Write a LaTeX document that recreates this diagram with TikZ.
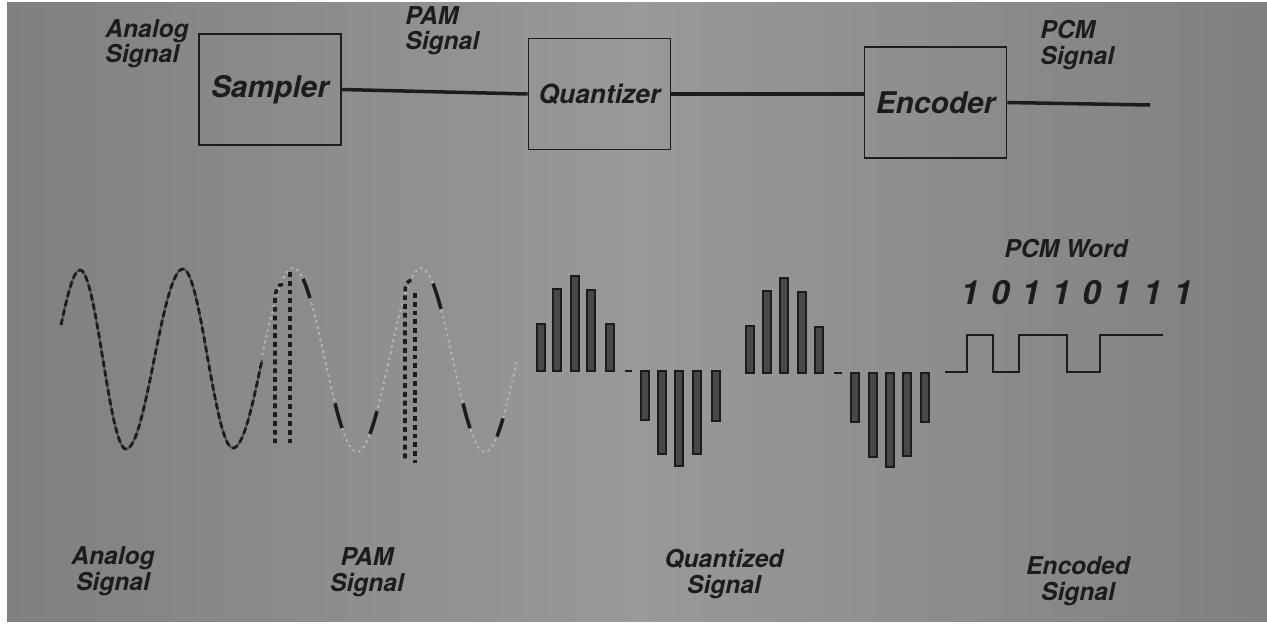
\documentclass[tikz,border=0pt]{standalone}
\usepackage{fontspec}
\setmainfont{TeX Gyre Heros}
\usetikzlibrary{calc}

\definecolor{ink}{RGB}{28,28,28}
\definecolor{faint}{RGB}{178,178,178}
\definecolor{bgdark}{RGB}{128,128,128}
\definecolor{bglight}{RGB}{153,153,153}
\definecolor{barfill}{RGB}{72,72,72}

\begin{document}
\begin{tikzpicture}[x=0.02cm, y=-0.02cm,
  txt/.style={font=\fontsize{14}{14.5}\selectfont\bfseries\itshape, text=ink, inner sep=0pt},
  block/.style={draw=ink, line width=1.1pt, minimum width=2.84cm, minimum height=2.22cm, inner sep=0pt, font=\fontsize{17}{17}\selectfont\bfseries\itshape, text=ink},
  wire/.style={draw=ink, line width=2pt},
  analog/.style={draw=ink, line width=1.6pt, dash pattern=on 3.5pt off 2pt, preaction={draw=ink!60!bglight, solid, line width=1.1pt}},
  pamfaint/.style={draw=faint, line width=1.2pt, dash pattern=on 1.5pt off 2pt},
  pamdark/.style={draw=ink, line width=2pt},
  pulse/.style={draw=ink, line width=2pt, dash pattern=on 2.8pt off 2.2pt},
  qbar/.style={draw=ink, fill=barfill, line width=0.8pt},
  pcm/.style={draw=ink, line width=1.4pt},
  declare function={pam(\x)=360-92*sin((\x-261)*2.8125);}
]
% Paper
\fill [white] (0,0) rectangle (1267,626);
\shade [left color=bgdark, right color=bgdark, middle color=bglight] (7,2) rectangle (1267,621);
\useasboundingbox (0,0) rectangle (1267,626);
%
% Sampler
\node [block] (sampler) at (270,89.5) {Sampler};
% Quantizer
\node [block, font=\fontsize{15}{15}\selectfont\bfseries\itshape] (quantizer) at (599.5,94) {Quantizer};
% Encoder
\node [block] (encoder) at (935.5,102.5) {Encoder};
% Sampler --> Quantizer
\draw [wire] (sampler.east) -- (quantizer.west);
% Quantizer --> Encoder
\draw [wire] (quantizer.east) -- (quantizer.east -| encoder.west);
% Encoder output
\coordinate (pcmout) at (1150,105);
\draw [wire] (encoder.east) -- (pcmout);
% Label "Analog Signal"
\node [txt, anchor=north west, align=left] (anasig) at (105,19) {Analog\\Signal};
% Label "PAM Signal"
\node [txt, anchor=north west, align=left] (pamsig) at (405,6) {PAM\\Signal};
% Label "PCM Signal"
\node [txt, anchor=north west, align=left] (pcmsig) at (1040,20) {PCM\\Signal};
%
% Analog wave
\draw [analog] (61,325) sin (80,270) cos (103,360) sin (126,449) cos (154,360) sin (183,269) cos (208,360) sin (233,448) cos (262,360);
% PAM wave
\draw [pamfaint] plot [domain=262:517, samples=80] (\x,{pam(\x)});
\foreach \a/\b in {303/310,335/342,370/377,433/441,463/470,497/503}
  \draw [pamdark] plot [domain=\a:\b, samples=6] (\x,{pam(\x)});
% PAM pulses
\draw [pulse] (283,284) .. controls (277,286) .. (275,298) -- (275,443);
\draw [pulse] (290,272) -- (290,443);
\draw [pulse] (411,280) .. controls (406,283) .. (405,292) -- (405,460);
\draw [pulse] (415,293) -- (415,463);
%
% Quantized bars
\foreach \bx/\bh in {541/47,557/82,575/95,591/81,610/47}
  \draw [qbar] (\bx-4,371) rectangle (\bx+4,371-\bh);
\foreach \bx/\bh in {645/49,662/83,679/95,697/83,716/50}
  \draw [qbar] (\bx-4,371) rectangle (\bx+4,371+\bh);
\foreach \bx/\bh in {750/47,767/82,784/95,802/81,819/46}
  \draw [qbar] (\bx-4,373) rectangle (\bx+4,373-\bh);
\foreach \bx/\bh in {855/49,873/84,890/94,907/83,925/49}
  \draw [qbar] (\bx-4,373) rectangle (\bx+4,373+\bh);
% Zero level
\draw [pcm] (625,371) -- (632,371);
\draw [pcm] (834,373) -- (842,373);
%
% Label "PCM Word"
\node [txt] (pcmword) at (1066,249) {PCM Word};
% PCM bits
\foreach \bv [count=\i] in {1,0,1,1,0,1,1,1}
  \node [txt, font=\fontsize{19}{19}\selectfont\bfseries\itshape] (bit\i) at ({970+30.4*(\i-1)},293) {\bv};
% Encoded wave
\draw [pcm] (945,372) -- (967,372) -- (967,335) -- (993,335) -- (993,372) -- (1019,372) -- (1019,335) -- (1067,335) -- (1067,372) -- (1100,372) -- (1100,335) -- (1163,335);
%
% Bottom labels
\node [txt, align=center] (anaout) at (113,571) {Analog\\Signal};
\node [txt, align=center] (pamout) at (367,572) {PAM\\Signal};
\node [txt, align=center] (quaout) at (724,574) {Quantized\\Signal};
\node [txt, align=center] (encout) at (1078,581) {Encoded\\Signal};
\end{tikzpicture}
\end{document}
